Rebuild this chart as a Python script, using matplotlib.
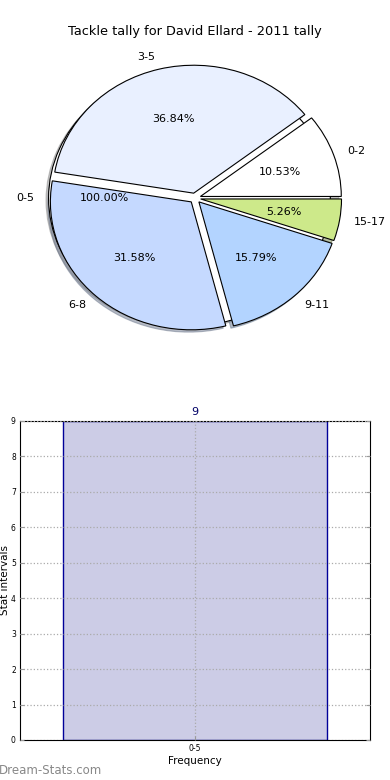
import matplotlib
matplotlib.use('Agg')
import matplotlib.pyplot as plt

# pie data (tackle counts per interval)
pie_labels = ['0-2', '3-5', '6-8', '9-11', '15-17']
pie_counts = [2, 7, 6, 3, 1]
pie_colors = ['#ffffff', '#e9f0ff', '#c5d9ff', '#b3d4ff', '#cde98a']

# the stray single-slice pie that sits underneath
extra_labels = ['0-5']
extra_counts = [9]

# bar data
bar_labels = ['0-5']
bar_values = [9]

fig = plt.figure(figsize=(3.9, 7.8), dpi=100)

# ---------- pie ----------
ax1 = fig.add_axes([0.0487, 0.541, 0.903, 0.410])
wp = {'edgecolor': 'black', 'linewidth': 0.8}
shadow = {'ox': -0.013, 'oy': -0.013, 'shade': 0.45}
ax1.pie(extra_counts, labels=extra_labels, colors=['#ffffff'], explode=[0.04],
        autopct='%1.2f%%', shadow=shadow, wedgeprops=wp,
        textprops={'fontsize': 8})
ax1.pie(pie_counts, labels=pie_labels, colors=pie_colors,
        explode=[0.04] * len(pie_counts), autopct='%1.2f%%', shadow=shadow,
        wedgeprops=wp, textprops={'fontsize': 8})
ax1.set_aspect('auto')
ax1.set_xlim(-1.25, 1.25)
ax1.set_ylim(-1.25, 1.25)
ax1.set_title('Tackle tally for David Ellard - 2011 tally', fontsize=9.3, pad=2)

# ---------- bar ----------
ax2 = fig.add_axes([0.0513, 0.0513, 0.897, 0.409])
bars = ax2.bar(range(len(bar_values)), bar_values, width=0.8,
               color='#ccccE6', edgecolor='#000099', linewidth=1.0)
for b, v in zip(bars, bar_values):
    ax2.text(b.get_x() + b.get_width() / 2, v + 0.12, str(v),
             ha='center', va='bottom', fontsize=8, color='#000066')
ax2.set_xlim(-0.53, 0.53)
ax2.set_ylim(0, max(bar_values))
ax2.set_xticks(range(len(bar_labels)))
ax2.set_xticklabels(bar_labels)
ax2.set_yticks(range(0, max(bar_values) + 1))
ax2.tick_params(labelsize=5.5, direction='in', length=3, right=True,
                color='#999999', pad=3)
ax2.grid(True, linestyle=':', color='#aaaaaa', linewidth=0.9)
ax2.set_axisbelow(False)
ax2.set_xlabel('Frequency', fontsize=7.5, labelpad=2)
ax2.set_ylabel('Stat intervals', fontsize=7.5, labelpad=0.5)

fig.text(-0.002, 0.004, 'Dream-Stats.com', fontsize=8.5, color='#888888',
         ha='left', va='bottom')

fig.savefig('out.png', dpi=100)
